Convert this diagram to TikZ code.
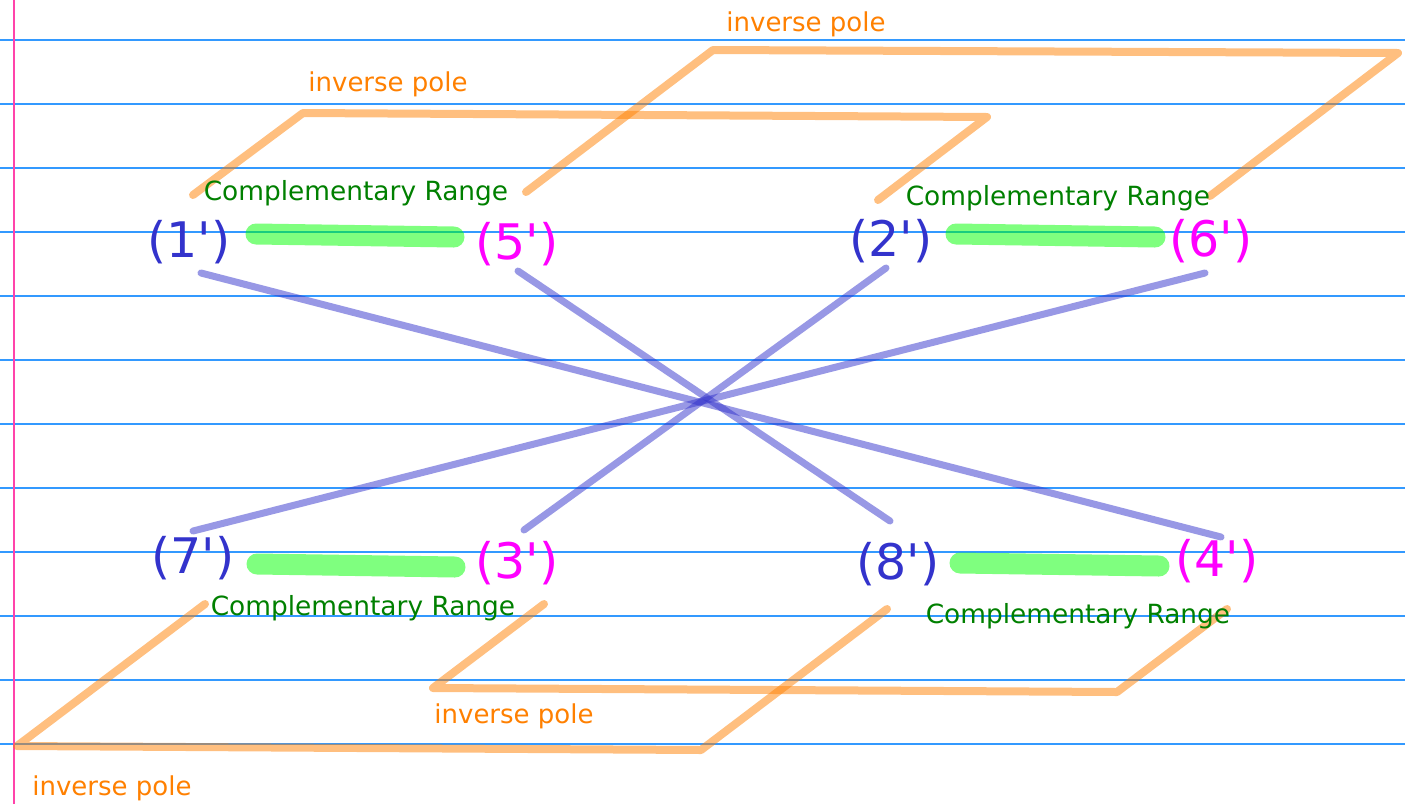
\documentclass[tikz,border=0pt]{standalone}
\usepackage{fontspec}
\setmainfont{DejaVu Sans}
\definecolor{rulecol}{RGB}{51,153,255}
\definecolor{margincol}{RGB}{255,68,170}
\definecolor{numblue}{RGB}{51,51,204}
\definecolor{nummag}{RGB}{255,0,255}
\definecolor{crgreen}{RGB}{0,128,0}
\definecolor{iporange}{RGB}{255,128,0}
\definecolor{barwhite}{RGB}{0,255,0}
\newcommand{\pq}{\textquotesingle}
\begin{document}
\begin{tikzpicture}[x=1pt,y=-1pt,
  ruleline/.style={draw=rulecol, line width=1.3pt},
  marginline/.style={draw=margincol, line width=1.5pt},
  poleline/.style={draw=iporange, line width=8pt, opacity=0.5, line cap=round, line join=round},
  linkline/.style={draw=numblue, line width=7pt, opacity=0.5, line cap=round},
  crbar/.style={draw=barwhite, line width=21pt, opacity=0.5, line cap=round},
  bignum/.style={font=\fontsize{49}{54}\selectfont, inner sep=0pt},
  nblue/.style={bignum, text=numblue},
  nmag/.style={bignum, text=nummag},
  crlabel/.style={font=\fontsize{26.4}{30}\selectfont, text=crgreen, inner sep=0pt},
  iplabel/.style={font=\fontsize{26}{30}\selectfont, text=iporange, inner sep=0pt}]
\useasboundingbox (0,0) rectangle (1405,804);
\fill[white] (0,0) rectangle (1405,804);
% ruled paper
\foreach \yy in {40,104,168,232,296,360,424,488,552,616,680,744}
  \draw[ruleline] (0,\yy) -- (1405,\yy);
\draw[marginline] (14,0) -- (14,804);
% coordinates
\coordinate (a1) at (193,195); \coordinate (a2) at (303,113); \coordinate (a3) at (987,117); \coordinate (a4) at (878,200);
\coordinate (b1) at (526,192); \coordinate (b2) at (713,50); \coordinate (b3) at (1398,53); \coordinate (b4) at (1210,196);
\coordinate (c1) at (205,604); \coordinate (c2) at (17,746); \coordinate (c3) at (701,750); \coordinate (c4) at (887,609);
\coordinate (d1) at (544,604); \coordinate (d2) at (433,688); \coordinate (d3) at (1117,692); \coordinate (d4) at (1227,609);
% inverse poles
\draw[poleline] (a1) -- (a2) -- (a3) -- (a4);
\draw[poleline] (b1) -- (b2) -- (b3) -- (b4);
\draw[poleline] (c1) -- (c2) -- (c3) -- (c4);
\draw[poleline] (d1) -- (d2) -- (d3) -- (d4);
% links
\coordinate (l1s) at (201,273); \coordinate (l1e) at (1221,537);
\coordinate (l2s) at (518,271); \coordinate (l2e) at (890,521);
\coordinate (l3s) at (886,268); \coordinate (l3e) at (524,530);
\coordinate (l4s) at (1205,273); \coordinate (l4e) at (193,531);
\draw[linkline] (l1s) -- (l1e);
\draw[linkline] (l2s) -- (l2e);
\draw[linkline] (l3s) -- (l3e);
\draw[linkline] (l4s) -- (l4e);
% ranges
\coordinate (r1s) at (256,234); \coordinate (r1e) at (454,237);
\coordinate (r2s) at (956,234); \coordinate (r2e) at (1155,237);
\coordinate (r3s) at (257,564); \coordinate (r3e) at (455,567);
\coordinate (r4s) at (960,563); \coordinate (r4e) at (1159,566);
\draw[crbar] (r1s) -- (r1e);
\draw[crbar] (r2s) -- (r2e);
\draw[crbar] (r3s) -- (r3e);
\draw[crbar] (r4s) -- (r4e);
% numbers
\node[nblue] (n1) at (189,242) {(1\pq)};
\node[nmag]  (n5) at (517,244) {(5\pq)};
\node[nblue] (n2) at (891,241) {(2\pq)};
\node[nmag]  (n6) at (1211,241) {(6\pq)};
\node[nblue] (n7) at (193,558) {(7\pq)};
\node[nmag]  (n3) at (517,563) {(3\pq)};
\node[nblue] (n8) at (898,564) {(8\pq)};
\node[nmag]  (n4) at (1217,561) {(4\pq)};
% labels
\node[crlabel] (cr1) at (356,193) {Complementary Range};
\node[crlabel] (cr2) at (1058,198) {Complementary Range};
\node[crlabel] (cr3) at (363,608) {Complementary Range};
\node[crlabel] (cr4) at (1078,616) {Complementary Range};
\node[iplabel] (ip1) at (388,84) {inverse pole};
\node[iplabel] (ip2) at (806,24) {inverse pole};
\node[iplabel] (ip3) at (514,716) {inverse pole};
\node[iplabel] (ip4) at (112,788) {inverse pole};
\end{tikzpicture}
\end{document}
